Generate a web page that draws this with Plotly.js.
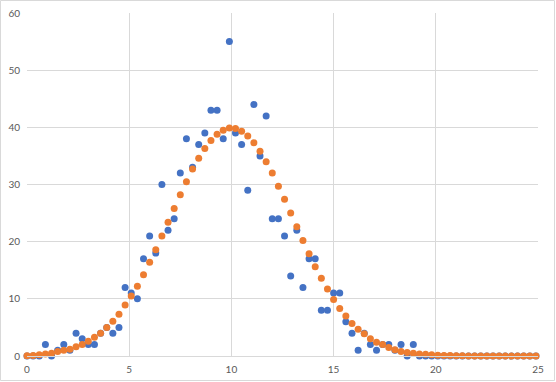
<!DOCTYPE html>
<html>
<head>
<meta charset="utf-8">
<script src="https://cdn.plot.ly/plotly-3.0.1.min.js"></script>
<style>html,body{margin:0;padding:0;background:#fff;}#chart{width:556px;height:382px;}</style>
</head>
<body>
<div id="chart"></div>
<script>
const xValues = [0,0.3,0.6,0.9,1.2,1.5,1.8,2.1,2.4,2.7,3.0,3.3,3.6,3.9,4.2,4.5,4.8,5.1,5.4,5.7,
  6.0,6.3,6.6,6.9,7.2,7.5,7.8,8.1,8.4,8.7,9.0,9.3,9.6,9.9,10.2,10.5,10.8,11.1,11.4,11.7,
  12.0,12.3,12.6,12.9,13.2,13.5,13.8,14.1,14.4,14.7,15.0,15.3,15.6,15.9,16.2,16.5,16.8,17.1,17.4,17.7,
  18.0,18.3,18.6,18.9,19.2,19.5,19.8,20.1,20.4,20.7,21.0,21.3,21.6,21.9,22.2,22.5,22.8,23.1,23.4,23.7,
  24.0,24.3,24.6,24.9];
const observed = [0,0,0,2,0,1,2,1,4,3,2,2,4,5,4,5,12,11,10,17,
  21,18,30,22,24,32,38,33,37,39,43,43,38,55,39,37,29,44,35,42,
  24,24,21,14,22,12,17,17,8,8,11,11,6,4,1,4,2,1,2,2,
  1,2,0,2,0,0,0,0,0,0,0,0,0,0,0,0,0,0,0,0,
  0,0,0,0];
const fitted = [0.05,0.1,0.2,0.35,0.5,0.8,1.0,1.2,1.6,2.0,2.6,3.3,4.0,5.0,6.1,7.3,8.9,10.5,12.2,14.2,
  16.4,18.6,21.0,23.4,25.8,28.2,30.5,32.7,34.6,36.3,37.7,38.8,39.5,39.9,39.8,39.3,38.5,37.3,35.8,34.0,
  32.0,29.7,27.4,25.0,22.6,20.2,17.9,15.6,13.6,11.7,9.9,8.3,7.0,5.7,4.7,3.9,3.0,2.4,2.0,1.5,
  1.1,0.8,0.6,0.5,0.35,0.3,0.2,0.15,0.1,0.07,0.05,0.03,0.02,0.01,0.01,0,0,0,0,0,
  0,0,0,0];
const xTicks = [0,5,10,15,20,25];
const yTicks = [0,10,20,30,40,50,60];

const font = {family: 'Lato, "Liberation Sans", sans-serif', size: 10, color: '#595959'};
const data = [
  {x: xValues, y: observed, type: 'scatter', mode: 'markers', cliponaxis: false,
   marker: {color: '#4472C4', size: 7}, name: 'Data'},
  {x: xValues, y: fitted, type: 'scatter', mode: 'markers', cliponaxis: false,
   marker: {color: '#ED7D31', size: 7}, name: 'Fit'}
];
const layout = {
  width: 556, height: 382,
  margin: {l: 27, r: 18, t: 13, b: 26},
  paper_bgcolor: '#ffffff', plot_bgcolor: '#ffffff',
  showlegend: false,
  font: font,
  xaxis: {range: [0, 25], tickvals: xTicks, ticktext: xTicks.map(String),
    showgrid: true, gridcolor: '#D9D9D9', gridwidth: 1, zeroline: false,
    showline: true, linecolor: '#D9D9D9', linewidth: 1, ticks: '', ticklabelstandoff: 4,
    tickfont: font, fixedrange: true},
  yaxis: {range: [0, 60], tickvals: yTicks, ticktext: yTicks.map(String),
    showgrid: true, gridcolor: '#D9D9D9', gridwidth: 1, zeroline: false,
    showline: false, ticks: '', ticklabelstandoff: 6, tickfont: font, fixedrange: true},
  shapes: [{type: 'rect', xref: 'paper', yref: 'paper',
    x0: (0.5 - 27) / 511, x1: (554.5 - 27) / 511,
    y0: (356 - 380.5) / 343, y1: (356 - 0.5) / 343,
    line: {color: '#D9D9D9', width: 1}, layer: 'below'}]
};
Plotly.newPlot('chart', data, layout, {displayModeBar: false, staticPlot: true});
</script>
</body>
</html>
